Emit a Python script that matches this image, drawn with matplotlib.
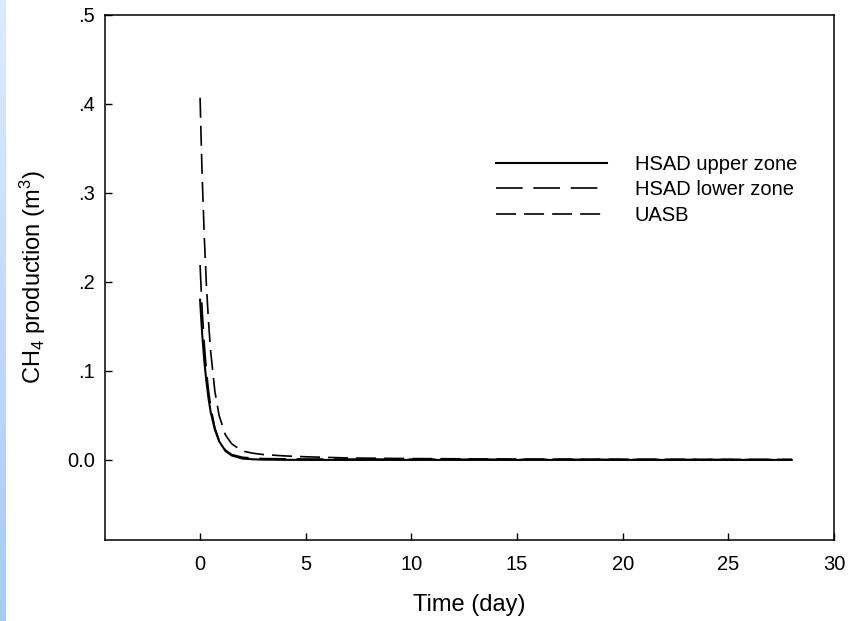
import numpy as np
import matplotlib
matplotlib.use("Agg")
import matplotlib.pyplot as plt
from matplotlib.colors import LinearSegmentedColormap

plt.rcParams['font.family'] = ['Liberation Sans', 'DejaVu Sans']
plt.rcParams['mathtext.fontset'] = 'custom'
plt.rcParams['mathtext.rm'] = 'Liberation Sans'
plt.rcParams['mathtext.it'] = 'Liberation Sans:italic'

# ---- data ----
t_days = [0, 0.05, 0.1, 0.2, 0.3, 0.4, 0.5, 0.7, 0.9, 1.2, 1.5, 2, 2.5, 3, 4, 5, 7, 10, 15, 20, 25, 28]
hsad_upper = [0.180, 0.160, 0.141, 0.111, 0.088, 0.069, 0.054, 0.034, 0.021, 0.010, 0.005, 0.0015,
              0.0007, 0.0003, 0.0001, 0.0, 0.0, 0.0, 0.0, 0.0, 0.0, 0.0]
hsad_lower = [0.219, 0.192, 0.168, 0.130, 0.100, 0.078, 0.060, 0.036, 0.022, 0.011, 0.006, 0.003,
              0.002, 0.0015, 0.0012, 0.001, 0.0009, 0.0008, 0.0006, 0.0005, 0.0004, 0.0004]
uasb = [0.407, 0.360, 0.318, 0.250, 0.196, 0.155, 0.122, 0.077, 0.050, 0.028, 0.018, 0.010,
        0.0075, 0.006, 0.0045, 0.0035, 0.0022, 0.0015, 0.001, 0.0008, 0.0006, 0.0005]
series_labels = ["HSAD upper zone", "HSAD lower zone", "UASB"]
x_ticks = [0, 5, 10, 15, 20, 25, 30]
y_ticks = [0.0, 0.1, 0.2, 0.3, 0.4, 0.5]
y_tick_labels = ["0.0", ".1", ".2", ".3", ".4", ".5"]

W, H = 848, 621
fig = plt.figure(figsize=(W / 100, H / 100), dpi=100)

# light blue strip at the left edge
strip = fig.add_axes([0, 0, 6 / W, 1])
grad = np.linspace(0, 1, 256).reshape(-1, 1)
cmap = LinearSegmentedColormap.from_list("s", ["#dfeafc", "#a9c9f6"])
strip.imshow(grad, aspect='auto', cmap=cmap, origin='upper')
strip.set_axis_off()

left, right, top, bottom = 105, 834, 15, 540
ax = fig.add_axes([left / W, 1 - bottom / H, (right - left) / W, (bottom - top) / H])

ax.plot(t_days, hsad_upper, color='black', lw=1.5, solid_joinstyle='round', label=series_labels[0])
l2, = ax.plot(t_days, hsad_lower, color='black', lw=1.2, label=series_labels[1])
l2.set_dashes([19.2 / 1.2, 7.7 / 1.2])
l3, = ax.plot(t_days, uasb, color='black', lw=1.2, label=series_labels[2])
l3.set_dashes([14.4 / 1.2, 5.8 / 1.2])

ax.set_xlim(-4.5, 30)
ax.set_ylim(-0.09, 0.5)
ax.set_xticks(x_ticks)
ax.set_yticks(y_ticks)
ax.set_yticklabels(y_tick_labels)
ax.tick_params(direction='in', length=5, width=1, labelsize=14.5)
ax.tick_params(axis='x', pad=11)
ax.tick_params(axis='y', pad=7)
for s in ax.spines.values():
    s.set_linewidth(1.1)

ax.set_xlabel("Time (day)", fontsize=17)
ax.xaxis.set_label_coords(0.5, (bottom - 594) / (bottom - top))
ax.set_ylabel("CH$_4$ production (m$^3$)", fontsize=17)
ax.yaxis.set_label_coords((48 - left) / (right - left), 0.5)

leg = ax.legend(loc='upper left', bbox_to_anchor=(496 / W, 1 - 155 / H),
                bbox_transform=fig.transFigure, frameon=False, fontsize=14.5,
                handlelength=5.5, handletextpad=1.4, labelspacing=0.32,
                borderpad=0, borderaxespad=0)

fig.savefig("out.png", dpi=100)
